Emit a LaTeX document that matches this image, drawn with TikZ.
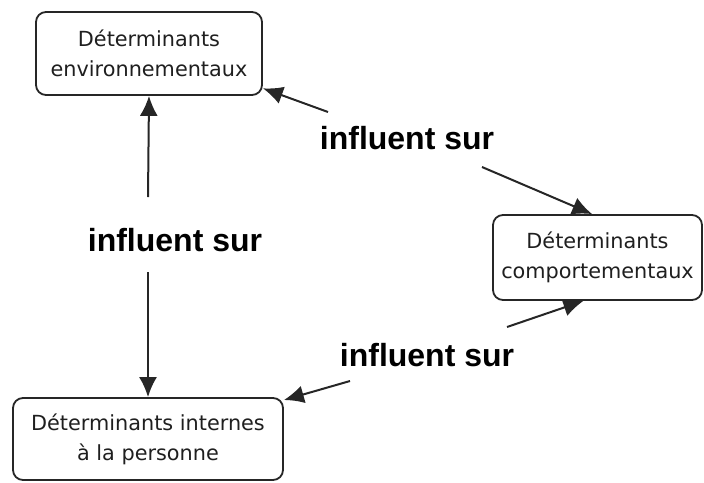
\documentclass[tikz,border=0pt]{standalone}
\usepackage{fontspec}
\newfontfamily\boxfont{DejaVu Sans}
\newfontfamily\labfont{Liberation Sans}
\usetikzlibrary{arrows.meta}
\begin{document}
\begin{tikzpicture}
		[x=0.5pt,y=-0.5pt,
		boite/.style={draw=black!85,line width=0.9pt,rounded corners=5pt,align=center,
			font=\boxfont\fontsize{10.4pt}{15pt}\selectfont,text=black!88},
		lien/.style={font=\labfont\bfseries\fontsize{16pt}{18pt}\selectfont},
		fleche/.style={line width=1pt,draw=black!85,-{Latex[length=10pt,width=9pt]}},
		]
		\useasboundingbox (0,0) rectangle (704,482);
		\node[boite,minimum width=113pt,minimum height=41.5pt] (env) at (149,53.5)
			{Déterminants\\environnementaux};
		\node[boite,minimum width=104.5pt,minimum height=42.5pt] (comp) at (597.5,257.5)
			{Déterminants\\comportementaux};
		\node[boite,minimum width=135pt,minimum height=41pt] (int) at (148,439)
			{Déterminants internes\\à la personne};
		
		\node[lien] (lab1) at (175,240) {influent sur};
		\node[lien] (lab2) at (407,138) {influent sur};
		\node[lien] (lab3) at (427,355) {influent sur};
		
		\coordinate (t1a) at (148,197);
		\coordinate (t1b) at (148,272);
		\coordinate (t2a) at (328,112);
		\coordinate (t2b) at (482,167);
		\coordinate (t3a) at (507,327);
		\coordinate (t3b) at (350,381);
		
		\draw[fleche] (t1a) -- (env.south);
		\draw[fleche] (t1b) -- (int.north);
		\draw[fleche] (t2a) -- (env.-17);
		\draw[fleche] (t2b) -- (comp.97);
		\draw[fleche] (t3a) -- (comp.-108);
		\draw[fleche] (t3b) -- (int.16);
	\end{tikzpicture}
\end{document}
